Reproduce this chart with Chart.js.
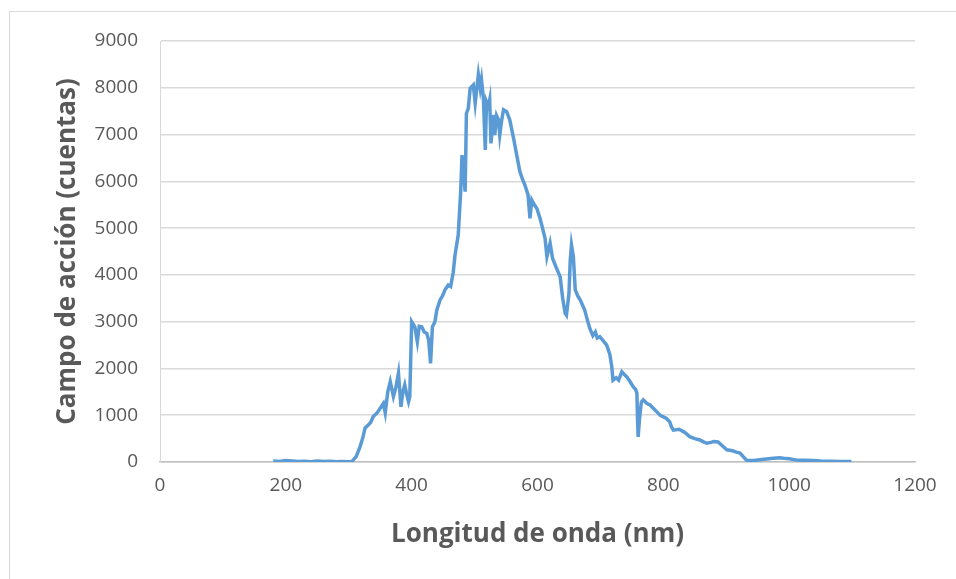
<!DOCTYPE html>
<html>
<head>
<meta charset="utf-8">
<script src="https://cdn.jsdelivr.net/npm/chart.js@4.4.0/dist/chart.umd.min.js"></script>
<style>
    html, body { margin: 0; padding: 0; background: #fff; overflow: hidden; }
    #wrap { position: relative; width: 956px; height: 579px; }
    #frame { position: absolute; left: 9px; top: 11px; width: 960px; height: 580px; border: 1px solid #d9d9d9; box-sizing: border-box; }
    canvas { position: absolute; left: 0; top: 0; }
</style>
</head>
<body>
<div id="wrap">
    <div id="frame"></div>
    <canvas id="myChart" width="956" height="579"></canvas>
</div>
<script>
// Longitud de onda (nm)
const wavelengths = [
    180, 190, 200, 210, 220, 230, 240, 250, 260, 270, 280, 290, 300, 305, 312, 318, 322, 326, 331, 335,
    339, 345, 350, 355, 358, 362, 366, 371, 375, 379, 383, 386, 389, 392, 395, 397, 400, 405, 409, 412,
    416, 420, 424, 427, 430, 433, 437, 440, 445, 449, 453, 458, 462, 466, 469, 474, 478, 480, 482, 485,
    487, 490, 493, 498, 501, 506, 509, 511, 514, 517, 519, 522, 524, 526, 530, 532, 535, 538, 540, 543,
    546, 551, 556, 562, 567, 572, 576, 580, 585, 588, 591, 595, 599, 604, 608, 612, 615, 620, 624, 630,
    636, 640, 644, 646, 650, 652, 654, 657, 660, 664, 668, 675, 680, 683, 688, 692, 695, 699, 704, 710,
    715, 718, 720, 725, 729, 734, 738, 742, 748, 752, 756, 758, 759, 760, 762, 765, 768, 774, 779, 784,
    792, 795, 805, 810, 813, 816, 825, 832, 837, 842, 850, 858, 864, 869, 876, 880, 887, 895, 901, 910,
    916, 922, 928, 932, 943, 960, 975, 985, 991, 1000, 1012, 1025, 1038, 1050, 1065, 1081, 1099
];

// Campo de acción (cuentas)
const counts = [
    20, 10, 30, 20, 10, 15, 5, 20, 10, 15, 5, 10, 5, 10, 120, 330, 500, 730, 790, 850,
    970, 1050, 1150, 1250, 1050, 1500, 1720, 1400, 1600, 1900, 1180, 1500, 1650, 1450, 1290, 1400, 3000, 2890, 2570, 2900,
    2890, 2780, 2750, 2610, 2110, 2890, 3000, 3250, 3460, 3550, 3680, 3780, 3750, 4050, 4430, 4850, 5800, 6560, 6300, 5780,
    7450, 7560, 7990, 8060, 7670, 8280, 7990, 8170, 7780, 6670, 7700, 7600, 7740, 6810, 7420, 6990, 7400, 7310, 6990, 7300,
    7530, 7490, 7310, 6920, 6560, 6210, 6050, 5920, 5710, 5210, 5600, 5500, 5420, 5210, 5000, 4780, 4390, 4680, 4350, 4150,
    3960, 3500, 3180, 3140, 3600, 4300, 4640, 4390, 3680, 3550, 3460, 3250, 3000, 2860, 2700, 2780, 2650, 2680, 2600, 2500,
    2300, 2040, 1750, 1800, 1750, 1930, 1870, 1820, 1700, 1610, 1550, 1470, 900, 535, 900, 1280, 1330, 1250, 1220, 1150,
    1040, 1000, 930, 860, 750, 680, 700, 650, 600, 540, 500, 470, 430, 400, 420, 440, 430, 330, 260, 240,
    210, 190, 100, 40, 30, 60, 80, 90, 80, 70, 40, 35, 30, 20, 15, 10, 10
];

const xTicks = [0, 200, 400, 600, 800, 1000, 1200];
const yTicks = [0, 1000, 2000, 3000, 4000, 5000, 6000, 7000, 8000, 9000];

const points = wavelengths.map((w, i) => ({ x: w, y: counts[i] }));

const fontFamily = "'Open Sans', 'DejaVu Sans', sans-serif";
const textColor = '#595959';

const ctx = document.getElementById('myChart').getContext('2d');

new Chart(ctx, {
    type: 'line',
    data: {
        datasets: [{
            label: 'Campo de acción',
            data: points,
            borderColor: '#5b9bd5',
            borderWidth: 3.5,
            pointRadius: 0,
            fill: false,
            tension: 0
        }]
    },
    options: {
        responsive: false,
        animation: false,
        layout: {
            padding: { left: 52, right: 41, top: 41, bottom: 29 }
        },
        plugins: {
            legend: { display: false },
            tooltip: { enabled: false }
        },
        scales: {
            x: {
                type: 'linear',
                min: 0,
                max: 1200,
                afterBuildTicks: function(scale) {
                    scale.ticks = xTicks.map(v => ({ value: v }));
                },
                afterFit: function(scale) {
                    scale.height = 579 - 462 - 29;
                },
                grid: { display: false, drawTicks: false },
                border: { display: true, color: '#bfbfbf', width: 1.5 },
                ticks: {
                    color: textColor,
                    padding: 12,
                    font: { family: fontFamily, size: 19 },
                    callback: function(value) { return String(value); }
                },
                title: {
                    display: true,
                    text: 'Longitud de onda (nm)',
                    color: textColor,
                    padding: 0,
                    font: { family: fontFamily, size: 26, weight: 'bold' }
                }
            },
            y: {
                min: 0,
                max: 9000,
                afterBuildTicks: function(scale) {
                    scale.ticks = yTicks.map(v => ({ value: v }));
                },
                afterFit: function(scale) {
                    scale.width = 160 - 52;
                },
                grid: { color: '#d9d9d9', lineWidth: 1.5, drawTicks: false },
                border: { display: true, color: '#d9d9d9', width: 1 },
                ticks: {
                    color: textColor,
                    padding: 22,
                    font: { family: fontFamily, size: 19 },
                    callback: function(value) { return String(value); }
                },
                title: {
                    display: true,
                    text: 'Campo de acción (cuentas)',
                    color: textColor,
                    padding: 0,
                    font: { family: fontFamily, size: 26, weight: 'bold' }
                }
            }
        }
    }
});
</script>
</body>
</html>
